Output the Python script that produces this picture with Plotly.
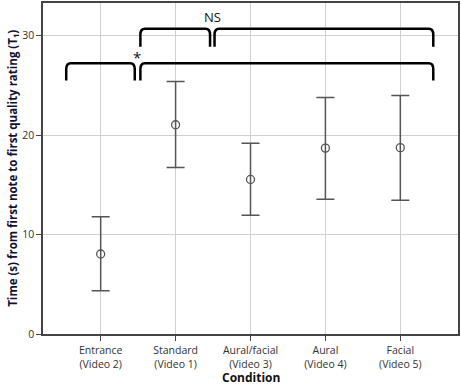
import plotly.graph_objects as go

categories = ["Entrance<br>(Video 2)", "Standard<br>(Video 1)", "Aural/facial<br>(Video 3)",
              "Aural<br>(Video 4)", "Facial<br>(Video 5)"]
means = [8.05, 21.05, 15.55, 18.7, 18.75]
upper = [11.8, 25.4, 19.2, 23.8, 24.0]
lower = [4.35, 16.75, 11.95, 13.55, 13.45]

# significance brackets: (x_start, x_end, y_top, y_leg_bottom)
brackets = [(0.53, 1.46, 30.7, 28.9), (1.52, 4.44, 30.7, 28.9),
            (-0.46, 0.455, 27.25, 25.5), (0.53, 4.44, 27.25, 25.5)]
labels = [("NS", 1.49, 31.9), ("*", 0.48, 27.9)]

xs = list(range(len(categories)))
fig = go.Figure()
fig.add_trace(go.Scatter(
    x=xs, y=means, mode="markers",
    marker=dict(symbol="circle-open", size=8, color="#555555", line=dict(width=1.3)),
    error_y=dict(type="data", symmetric=False,
                 array=[u - m for u, m in zip(upper, means)],
                 arrayminus=[m - l for m, l in zip(means, lower)],
                 color="#555555", thickness=1.5, width=9),
    showlegend=False))

for x0, x1, yt, yb in brackets:
    r = 0.06
    ry = 0.6
    path = (f"M {x0},{yb} L {x0},{yt-ry} Q {x0},{yt} {x0+r},{yt} "
            f"L {x1-r},{yt} Q {x1},{yt} {x1},{yt-ry} L {x1},{yb}")
    fig.add_shape(type="path", path=path, xref="x", yref="y",
                  line=dict(color="black", width=2.5))

for txt, x, y in labels:
    fig.add_annotation(x=x, y=y, text=txt, showarrow=False, xref="x", yref="y",
                       font=dict(size=13 if txt == "NS" else 15, color="#111"))

fig.add_annotation(x=0.5, y=-0.132, xref="paper", yref="paper", yanchor="middle",
                   borderpad=0, text="<b>Condition</b>", showarrow=False,
                   font=dict(size=12, color="#111"))
fig.add_annotation(x=-0.074, y=0.5, xref="paper", yref="paper", textangle=-90,
                   xanchor="center", yanchor="middle",
                   text="<b>Time (s) from first note to first quality rating (T₁)</b>",
                   showarrow=False, font=dict(size=11.5, color="#111133"))

fig.update_layout(
    width=461, height=385,
    margin=dict(l=43, r=3, t=3, b=51),
    plot_bgcolor="white", paper_bgcolor="white",
    font=dict(family="Open Sans, sans-serif", size=10.5, color="#333"),
    xaxis=dict(range=[-0.77, 4.77], tickmode="array", tickvals=xs, ticktext=categories,
               showgrid=True, gridcolor="#d0d0d0", gridwidth=1,
               showline=True, linecolor="#444", linewidth=1.5, mirror=True,
               ticks="outside", ticklen=5, tickcolor="#444", automargin=False,
               ticklabelstandoff=1, zeroline=False),
    yaxis=dict(range=[0, 33.3], tickvals=[0, 10, 20, 30],
               showgrid=True, gridcolor="#d0d0d0", gridwidth=1,
               showline=True, linecolor="#444", linewidth=1.5, mirror=True,
               ticks="outside", ticklen=5, tickcolor="#444", automargin=False,
               zeroline=False),
)
fig.write_html("out.html", config={"displayModeBar": False},
               post_script="document.body.style.margin='0';")
